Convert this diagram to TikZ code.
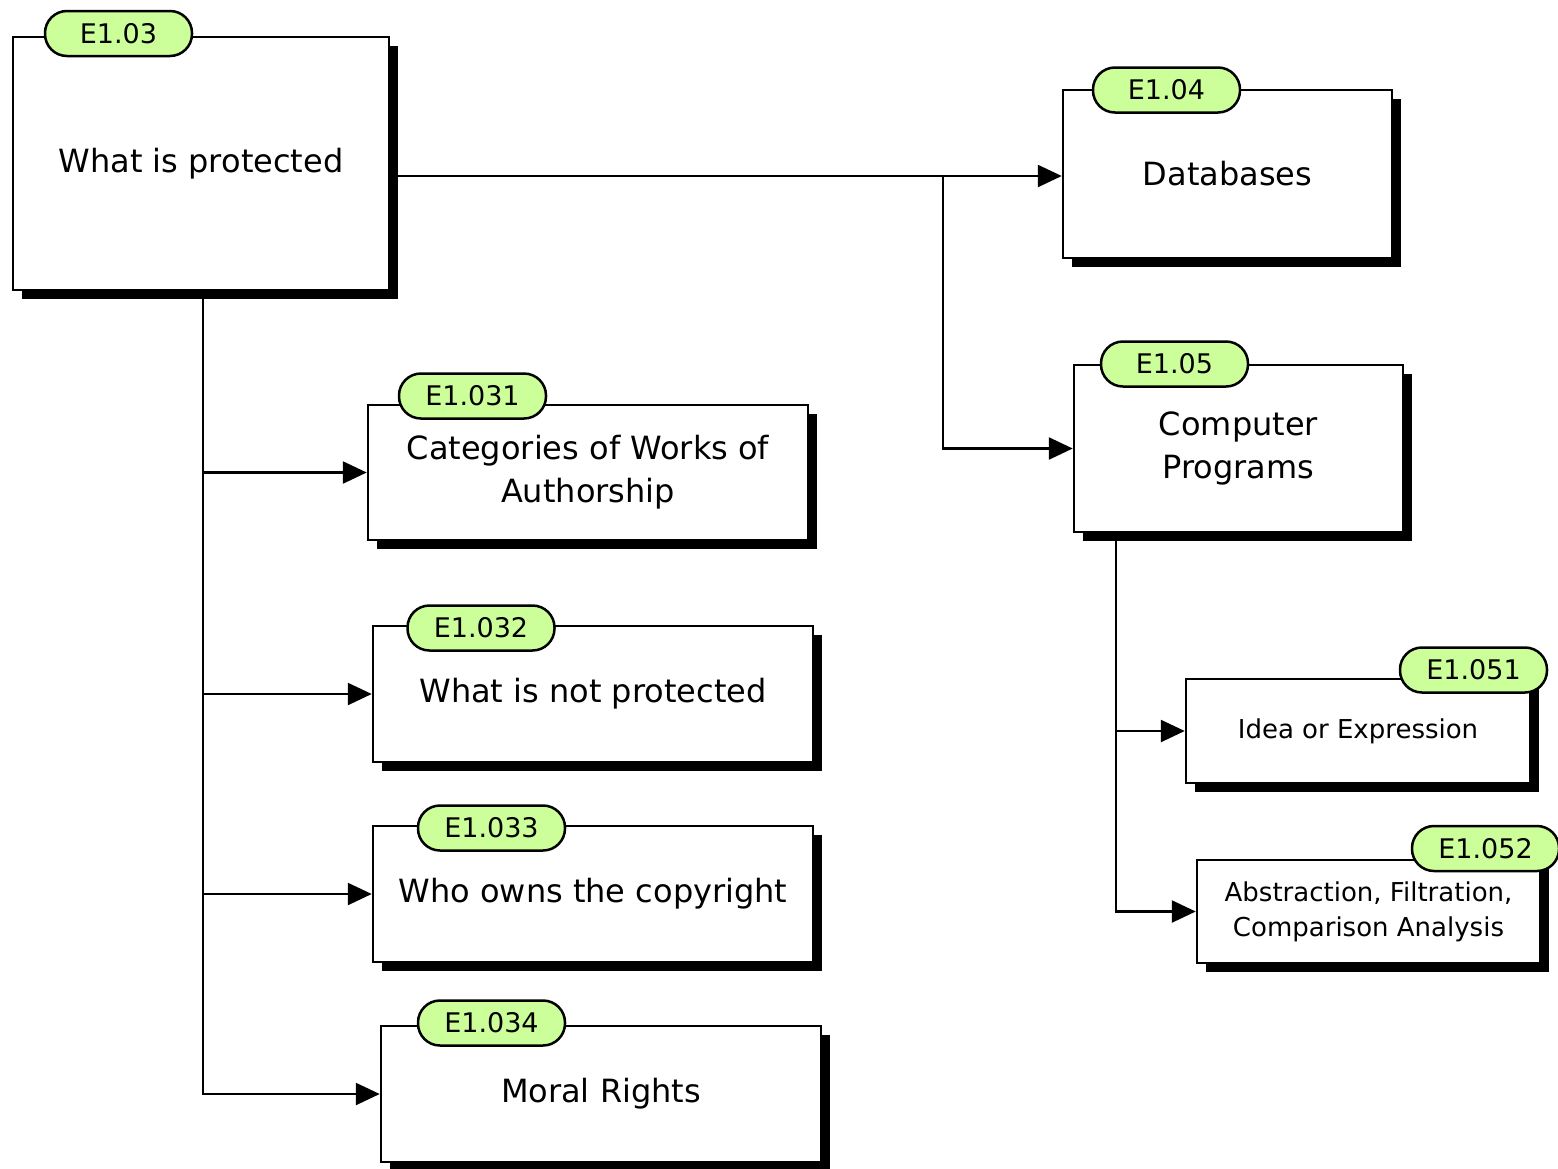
\documentclass[tikz,border=0pt]{standalone}
\usepackage{fontspec}
\setmainfont{DejaVu Sans}
\usetikzlibrary{shadows,arrows.meta,backgrounds,calc}
\definecolor{tagfill}{RGB}{204,255,153}
\begin{document}
\begin{tikzpicture}[x=1pt,y=-1pt,
  box/.style={draw, line width=2.5pt, fill=white, align=center, inner sep=0pt,
    general shadow={fill=black, shadow xshift=8.5pt, shadow yshift=-8.5pt},
    font=\fontsize{32}{43}\selectfont},
  smallbox/.style={box, font=\fontsize{26}{35}\selectfont},
  tag/.style={draw, line width=2.5pt, fill=tagfill, rounded corners=22pt,
    minimum width=147pt, minimum height=45pt, inner sep=0pt,
    font=\fontsize{27}{30}\selectfont},
  conn/.style={line width=2.5pt},
  arr/.style={conn, -{Triangle[length=24pt,width=22pt]}}]
\useasboundingbox (0,0) rectangle (1558,1168);
% boxes
\node[box, minimum width=376pt, minimum height=253pt] (A) at (201,163.5) {What is protected};
\node[box, minimum width=329pt, minimum height=168pt] (DB) at (1227.5,174) {Databases};
\node[box, minimum width=329pt, minimum height=167pt] (CP) at (1238.5,448.5) {Computer\\Programs};
\node[box, minimum width=440pt, minimum height=135pt] (CAT) at (588,472.5) {Categories of Works of\\Authorship};
\node[box, minimum width=440pt, minimum height=136pt] (NP) at (593,694) {What is not protected};
\node[box, minimum width=440pt, minimum height=136pt] (WO) at (593,894) {Who owns the copyright};
\node[box, minimum width=440pt, minimum height=136pt] (MR) at (601,1094) {Moral Rights};
\node[smallbox, minimum width=344pt, minimum height=104pt] (IE) at (1358,731) {Idea or Expression};
\node[smallbox, minimum width=343pt, minimum height=103pt] (AB) at (1368.5,911.5) {Abstraction, Filtration,\\Comparison Analysis};
% tags
\node[tag] (tA) at (118.5,33.5) {E1.03};
\node[tag] (tDB) at (1166.5,90) {E1.04};
\node[tag] (tCP) at (1174.5,364) {E1.05};
\node[tag] (tCAT) at (472.5,396) {E1.031};
\node[tag] (tNP) at (481,628) {E1.032};
\node[tag] (tWO) at (491.5,828) {E1.033};
\node[tag] (tMR) at (491.5,1023) {E1.034};
\node[tag] (tIE) at (1473.5,670) {E1.051};
\node[tag] (tAB) at (1485.5,848.5) {E1.052};
% connectors
\begin{scope}[on background layer]
  \coordinate (dbin) at ($(DB.west)+(0,2)$);
  \draw[arr] (A.east |- dbin) -- (dbin);
  \coordinate (j1) at ($(dbin)+(-119,0)$);
  \draw[arr] (j1) |- (CP.west);
  \coordinate (t) at ($(A.south)+(2,0)$);
  \draw[arr] (t) |- (MR.west);
  \foreach \n in {CAT,NP,WO} \draw[arr] (t |- \n.west) -- (\n.west);
  \coordinate (j2) at ($(CP.south west)+(43,0)$);
  \draw[arr] (j2) |- (AB.west);
  \draw[arr] (j2 |- IE.west) -- (IE.west);
\end{scope}
\end{tikzpicture}
\end{document}
